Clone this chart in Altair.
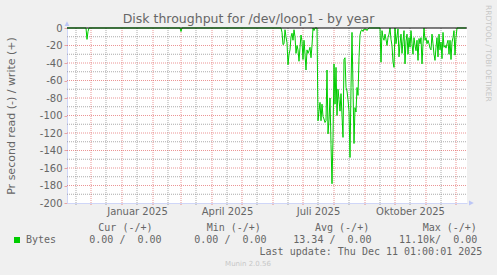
import altair as alt
import pandas as pd

# ---------------- data ----------------
domain_start = (2024, 11, 7)
domain_end = (2025, 12, 12)

# isolated read bursts before summer (plotted value: read is drawn negative)
early_dates = ["2024-11-07", "2024-11-26", "2024-11-27", "2024-11-28", "2024-11-29",
               "2025-02-28", "2025-03-01", "2025-03-02", "2025-06-07"]
early_read = [0, 0, -13, -4, 0, 0, -4, 0, 0]

# daily values from summer_start on
summer_start = "2025-06-08"
summer_read = [
    0, 0, -5, -19, -18, -2, -10, -17, -42, -30,
    -25, -10, -6, -14, -2, -10, -29, -20, -25, -38,
    -22, -8, -15, -36, -14, -30, -48, -25, -29, -26,
    -22, -34, -20, 0, -3, 0, 0, 0, -106, -95,
    -85, -106, -87, -101, -104, -108, -106, -48, -121, -105,
    -80, -133, -178, -125, -41, -87, -45, -100, -70, -82,
    -95, -75, -100, -125, -36, -34, -68, -72, -82, -95,
    -148, -68, -5, -68, -132, -91, -96, -68, -77, -34,
    -8, -3, -2, -4, -1, -2, -1, -3, -1, 0,
    0, 0, 0, 0, 0, 0, 0, 0, 0, 0,
    0, -39, -3, -11, -14, -7, -13, -20, -11, -7,
    0, -13, -20, -39, -45, 0, -18, -9, -1, -33,
    -18, -7, -29, -15, -3, -41, -15, -7, -30, -11,
    -22, -3, -18, -30, -11, -20, -26, -14, -37, -12,
    -18, -11, -41, -18, 0, -14, -11, -18, -14, -18,
    -23, -25, -7, -18, -30, -37, -22, -11, -33, -7,
    -25, -16, -35, -5, -22, -20, -23, -18, -14, -30,
    -14, -36, -16, -11, -3, -31, -11, 0, 0,
]
tail_dates = ["2025-12-11"]
tail_read = [0]

y_labels = [0, -20, -40, -60, -80, -100, -120, -140, -160, -180, -200]
y_major = [-20, -40, -60, -80, -100, -120, -140, -160, -180]
y_minor = [-10, -30, -50, -70, -90, -110, -130, -150, -170, -190]
month_starts = ["2024-12-01", "2025-01-01", "2025-02-01", "2025-03-01", "2025-04-01",
                "2025-05-01", "2025-06-01", "2025-07-01", "2025-08-01", "2025-09-01",
                "2025-10-01", "2025-11-01", "2025-12-01"]
mid_months = ["2024-11-16", "2024-12-16", "2025-01-16", "2025-02-16", "2025-03-16",
              "2025-04-16", "2025-05-16", "2025-06-16", "2025-07-16", "2025-08-16",
              "2025-09-16", "2025-10-16", "2025-11-16"]
label_dates = [(2025, 1, 16), (2025, 4, 16), (2025, 7, 16), (2025, 10, 16)]
month_names = ["Januar", "Februar", "März", "April", "Mai", "Juni", "Juli",
               "August", "September", "Oktober", "November", "Dezember"]

title_text = "Disk throughput for /dev/loop1 - by year"
y_title = "Pr second read (-) / write (+)"
series_name = "Bytes"
legend_headers = ["Cur (-/+)", "Min (-/+)", "Avg (-/+)", "Max (-/+)"]
legend_values = ["0.00 /  0.00", "0.00 /  0.00", "13.34 /  0.00", "11.10k/  0.00"]
last_update = "Last update: Thu Dec 11 01:00:01 2025"
version_text = "Munin 2.0.56"
watermark = "RRDTOOL / TOBI OETIKER"

# ---------------- style ----------------
FONT = "DejaVu Sans"
MONO = "DejaVu Sans Mono"
FONT_COLOR = "#666666"
AXIS_COLOR = "#CFD6F8"
ARROW_COLOR = "#BCC6F6"
LINE_COLOR = "#00CC00"
MGRID = "#DE4F4F"
GRID = "#8F8F8F"


def dt(t):
    return alt.DateTime(year=t[0], month=t[1], date=t[2], utc=True)


def keep_spaces(s):
    # SVG collapses runs of spaces; keep the monospace layout
    return s.replace("  ", "\u00a0\u00a0")


xscale = alt.Scale(type="utc", domain=[dt(domain_start), dt(domain_end)])
yscale = alt.Scale(domain=[-200, 0], nice=False, zero=False)

summer_dates = pd.date_range(summer_start, periods=len(summer_read), freq="D").strftime("%Y-%m-%d").tolist()
series = pd.DataFrame({"date": early_dates + summer_dates + tail_dates,
                       "read": early_read + summer_read + tail_read})

months_js = "[" + ",".join("'" + m + "'" for m in month_names) + "]"

x_axis = alt.Axis(values=[dt(d) for d in label_dates],
                  labelExpr=months_js + "[utcmonth(datum.value)] + ' ' + utcyear(datum.value)",
                  title="", ticks=False, grid=False, domain=True, domainColor=AXIS_COLOR, domainWidth=1,
                  labelFont=FONT, labelFontSize=10, labelColor=FONT_COLOR, labelPadding=3,
                  labelFlush=False, labelOverlap=False)
y_axis = alt.Axis(values=y_labels, labelExpr="'' + datum.value",
                  title=y_title, titleFont=FONT, titleFontSize=11, titleFontWeight="normal",
                  titleColor=FONT_COLOR, titleAngle=270, titleX=-56, titleY=87.5,
                  titleAlign="center", titleBaseline="middle",
                  labelFont=FONT, labelFontSize=10, labelColor=FONT_COLOR, labelPadding=2,
                  ticks=True, tickSize=3, tickColor="#E9A3A3", grid=False, domain=True,
                  domainColor=AXIS_COLOR, labelFlush=False, labelOverlap=False)


def X(**kw):
    return alt.X(scale=xscale, axis=x_axis, **kw)


def Y(**kw):
    return alt.Y(scale=yscale, axis=y_axis, **kw)


def hgrid(values, color, opacity):
    return alt.Chart(pd.DataFrame({"v": values})).mark_rule(
        color=color, opacity=opacity, strokeDash=[1, 1], strokeWidth=1
    ).encode(
        y=Y(field="v", type="quantitative"),
        x=X(datum=dt(domain_start), type="temporal"),
        x2=alt.X2(datum=dt(domain_end)),
    )


def vgrid(values, color, opacity):
    return alt.Chart(pd.DataFrame({"d": values})).mark_rule(
        color=color, opacity=opacity, strokeDash=[1, 1], strokeWidth=1, y2Offset=3
    ).encode(
        x=X(field="d", type="temporal"),
        y=Y(datum=0, type="quantitative"),
        y2=alt.Y2(datum=-200),
    )


def text(t, x, y, size=10, font=MONO, color=FONT_COLOR, align="left", baseline="middle", angle=0):
    return alt.Chart(pd.DataFrame({"t": [keep_spaces(t)]})).mark_text(
        font=font, fontSize=size, color=color, align=align, baseline=baseline, angle=angle
    ).encode(text="t:N", x=alt.value(x), y=alt.value(y))


def arrow(xd, yv, path):
    return alt.Chart(pd.DataFrame({"v": [yv]})).mark_point(
        shape=path, filled=True, size=16, color=ARROW_COLOR, fill=ARROW_COLOR, opacity=1, strokeWidth=0
    ).encode(
        y=Y(field="v", type="quantitative"),
        x=X(datum=dt(xd), type="temporal"),
    )


layers = [
    hgrid(y_minor, GRID, 0.75),
    vgrid(mid_months, GRID, 0.75),
    hgrid(y_major, MGRID, 0.6),
    vgrid(month_starts, MGRID, 0.6),
    alt.Chart(series).mark_line(color=LINE_COLOR, strokeWidth=1, interpolate="linear").encode(
        x=X(field="date", type="temporal"),
        y=Y(field="read", type="quantitative"),
    ),
    # zero line
    alt.Chart(pd.DataFrame({"v": [0]})).mark_rule(color="#000000", strokeWidth=1).encode(
        y=Y(field="v", type="quantitative"),
        x=X(datum=dt(domain_start), type="temporal"),
        x2=alt.X2(datum=dt(domain_end)),
    ),
    # axis arrows (unit-space symbol paths, tip beyond the axis end)
    arrow(domain_start, 0, "M0,-3.4L-1.2,-1L1.2,-1Z"),
    arrow(domain_end, -200, "M3.4,0L1,-1.2L1,1.2Z"),
    # title & watermarks
    text(title_text, 181.5, -4.7, size=12.5, font=FONT, align="center", baseline="alphabetic"),
    text(watermark, 421, -23, size=7.5, font=FONT, color="#C7C7C7", align="left", angle=90),
    text(version_text, 181, 236, size=7, font=FONT, color="#C7C7C7", align="center"),
    # legend
    alt.Chart(pd.DataFrame({"n": [series_name]})).mark_square(
        size=36, color=LINE_COLOR, opacity=1
    ).encode(x=alt.value(-50), y=alt.value(212)),
    text(series_name, -41, 212),
    text(last_update, 415.3, 223.7, align="right"),
]
for hdr, xpos in zip(legend_headers, [31.3, 139.7, 248, 355.7]):
    layers.append(text(hdr, xpos, 199.5))
for val, xpos in zip(legend_values, [22.3, 127.3, 226.3, 332]):
    layers.append(text(val, xpos, 212))

chart = alt.layer(*layers).properties(
    width=400, height=175,
    padding={"left": 67, "top": 28, "right": 30, "bottom": 72},
    autosize=alt.AutoSizeParams(type="none"),
).configure(background="#F0F0F0").configure_view(
    fill="#FFFFFF", strokeWidth=0
).configure_axis(labelOverlap=False)

chart.save("out.html", embed_options={"renderer": "svg", "actions": False})
